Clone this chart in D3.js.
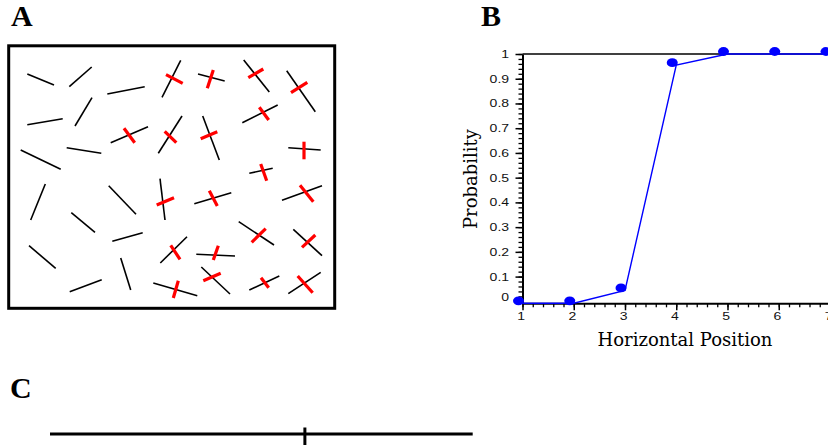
<!DOCTYPE html>
<html lang="en">
<head>
    <meta charset="UTF-8">
    <title>Orientation field and probability curve</title>
    <script src="https://cdn.jsdelivr.net/npm/d3@7"></script>
    <style>
        body { margin: 0; background: white; }
        svg { display: block; }
        .panel-label { font-family: "Liberation Serif", "Times New Roman", serif; font-weight: bold; font-size: 30px; }
        .axis-title { font-family: "DejaVu Serif", serif; font-size: 18px; }
        .tick text { font-family: "Liberation Sans", Arial, sans-serif; font-size: 11.5px; fill: #111; }
    </style>
</head>
<body>
<div id="chart"></div>
<script>
    /*----------------- data -----------------*/
    // panel A: black line segments [x1, y1, x2, y2] in field units
    const segments = [
        [27.3, 74, 54, 85], [69.3, 86.7, 91.7, 67], [107.3, 94, 144.7, 86.7],
        [162, 97.3, 180.7, 60.3], [198, 74, 224.7, 81], [243.7, 60, 269.3, 92],
        [286.7, 70.7, 315.3, 111.7], [27.3, 124.7, 62.7, 118.7], [75, 126, 92, 97.7],
        [110.7, 142.7, 148, 126.7], [158.3, 153.3, 182, 116], [202.7, 116, 219.3, 160],
        [242.3, 122.7, 277.7, 105], [288.3, 147.7, 320.7, 150], [20.7, 150, 60.7, 169.3],
        [66.7, 147.7, 101.3, 153.3], [249.3, 173.3, 272.7, 168.3], [30.7, 220, 45.3, 184],
        [108.7, 185.7, 136, 214.3], [160, 178.7, 165, 220], [194.3, 203.7, 231.3, 192.7],
        [282, 200.3, 322, 185.7], [71.3, 212.7, 95, 232.3], [112.3, 241.3, 142.7, 232.7],
        [238.7, 221.7, 274, 245], [293.3, 229.3, 322, 255.7], [29, 245.7, 55.7, 268.3],
        [160.3, 263, 187, 236.7], [196.3, 254.3, 235, 256], [120.7, 258, 130.7, 290],
        [69.7, 291.7, 101.7, 279.7], [153.3, 283, 197.3, 295.7], [201.3, 267, 230, 294],
        [249.3, 290, 279.3, 276], [288.3, 293.7, 320.7, 272.3]
    ];
    // panel A: red cross marks on the selected segments
    const crosses = [
        [166, 74.7, 182.7, 83.3], [213.3, 70, 207.3, 88.3], [248.3, 77.7, 263.3, 69],
        [291, 92.7, 307.3, 82.3], [124, 128.3, 134.7, 142.7], [164.7, 131.3, 176.3, 142.7],
        [200.7, 138.7, 217.3, 131.7], [259.3, 107.3, 268.7, 120], [304, 141.7, 304, 159.3],
        [260.7, 164, 266.7, 180.7], [156.7, 205, 174, 197.7], [209.3, 190.7, 217.3, 206],
        [300, 185.3, 313.3, 201.7], [251.7, 242.3, 265.7, 228.7], [302, 247.3, 315.3, 235],
        [170.7, 245.3, 180, 259.3], [218.3, 245.7, 213.3, 260], [178.3, 280.7, 173.3, 298],
        [203.3, 280.7, 220.7, 273.3], [261, 277.7, 268.7, 287.7], [297.7, 276, 312.7, 292.7]
    ];

    // panel B: probability by horizontal position
    const positions = [1, 2, 3, 4, 5, 6, 7];
    const probability = [-0.008, -0.008, 0.044, 0.955, 1, 1, 1];
    const yTicks = [0, 0.1, 0.2, 0.3, 0.4, 0.5, 0.6, 0.7, 0.8, 0.9, 1];
    const xTicks = [1, 2, 3, 4, 5, 6, 7];

    // panel C: a bar with one marker
    const cExtent = [0, 1];
    const cMarker = 0.603;

    /*----------------- svg -----------------*/
    const W = 828, H = 448;
    const svg = d3.select("#chart").append("svg")
        .attr("width", W)
        .attr("height", H);

    /*----------------- panel A -----------------*/
    const xA = d3.scaleLinear().domain([9, 334]).range([9, 334]);
    const yA = d3.scaleLinear().domain([46, 308]).range([46, 308]);

    svg.append("text").attr("class", "panel-label").attr("x", 11).attr("y", 26).text("A");

    svg.append("rect")
        .attr("x", 8.7).attr("y", 45.8)
        .attr("width", 326).attr("height", 262.5)
        .attr("fill", "none").attr("stroke", "black").attr("stroke-width", 3);

    svg.append("g").selectAll("line")
        .data(segments)
        .enter().append("line")
        .attr("x1", d => xA(d[0])).attr("y1", d => yA(d[1]))
        .attr("x2", d => xA(d[2])).attr("y2", d => yA(d[3]))
        .attr("stroke", "black").attr("stroke-width", 1.6);

    svg.append("g").selectAll("line")
        .data(crosses)
        .enter().append("line")
        .attr("x1", d => xA(d[0])).attr("y1", d => yA(d[1]))
        .attr("x2", d => xA(d[2])).attr("y2", d => yA(d[3]))
        .attr("stroke", "#ff0000").attr("stroke-width", 3.2);

    /*----------------- panel B -----------------*/
    svg.append("text").attr("class", "panel-label").attr("x", 481).attr("y", 26).text("B");

    const xB = d3.scaleLinear().domain([1, 7]).range([522.5, 830]);
    const yB = d3.scaleLinear().domain([-0.008, 1]).range([303.3, 54]);
    const x0 = xB(1), yBase = yB(-0.008);

    // minor ticks
    svg.append("g")
        .attr("transform", `translate(${x0},0)`)
        .call(d3.axisLeft(yB).tickValues(d3.range(0, 1.0001, 0.02)).tickSize(4).tickFormat(""))
        .call(g => g.select(".domain").remove())
        .call(g => g.selectAll("line").attr("stroke-width", 1.3));
    svg.append("g")
        .attr("transform", `translate(0,${yBase})`)
        .call(d3.axisBottom(xB).tickValues(d3.range(1, 7.0001, 0.2)).tickSize(4).tickFormat(""))
        .call(g => g.select(".domain").remove())
        .call(g => g.selectAll("line").attr("stroke-width", 1.3));

    // major ticks
    const yAxis = svg.append("g")
        .attr("transform", `translate(${x0},0)`)
        .call(d3.axisLeft(yB).tickValues(yTicks).tickSize(7).tickSizeOuter(0).tickFormat(d3.format("")));
    yAxis.select(".domain").attr("stroke-width", 2);
    yAxis.selectAll(".tick line").attr("stroke-width", 1.5);
    yAxis.selectAll(".tick text")
        .attr("x", -11)
        .attr("dy", "0.3em")
        .attr("transform", "scale(1.22,1)");
    yAxis.selectAll(".tick").filter(d => d === 0).select("text").attr("dy", "-0.05em");

    const xAxis = svg.append("g")
        .attr("transform", `translate(0,${yBase})`)
        .call(d3.axisBottom(xB).tickValues(xTicks).tickSize(7).tickSizeOuter(0).tickFormat(d3.format("d")));
    xAxis.select(".domain").attr("stroke-width", 2);
    xAxis.selectAll(".tick line").attr("stroke-width", 1.5);
    xAxis.selectAll(".tick text")
        .attr("x", -1.5)
        .attr("y", 9)
        .attr("transform", "scale(1.22,1)");

    // frame line at p = 1
    svg.append("line")
        .attr("x1", x0).attr("x2", W)
        .attr("y1", yB(1)).attr("y2", yB(1))
        .attr("stroke", "black").attr("stroke-width", 1.5);

    // curve
    const pts = positions.map((p, i) => [p, probability[i]]);
    svg.append("path")
        .datum(pts)
        .attr("fill", "none")
        .attr("stroke", "#0000ff")
        .attr("stroke-width", 1.4)
        .attr("d", d3.line().x(d => xB(d[0])).y(d => yB(d[1])));

    svg.append("g")
        .attr("transform", "translate(-4,-2.5)")
        .selectAll("ellipse")
        .data(pts)
        .enter().append("ellipse")
        .attr("cx", d => xB(d[0]))
        .attr("cy", d => yB(d[1]))
        .attr("rx", 5.5).attr("ry", 4.4)
        .attr("fill", "#0000ff");

    svg.append("text")
        .attr("class", "axis-title")
        .attr("text-anchor", "middle")
        .attr("x", 685).attr("y", 346)
        .text("Horizontal Position");

    svg.append("text")
        .attr("class", "axis-title")
        .attr("text-anchor", "middle")
        .attr("transform", "translate(477,179) rotate(-90)")
        .text("Probability");

    /*----------------- panel C -----------------*/
    svg.append("text").attr("class", "panel-label").attr("x", 10).attr("y", 398).text("C");

    const xC = d3.scaleLinear().domain(cExtent).range([50, 472.7]);
    svg.append("line")
        .attr("x1", xC(cExtent[0])).attr("x2", xC(cExtent[1]))
        .attr("y1", 434).attr("y2", 434)
        .attr("stroke", "black").attr("stroke-width", 3);
    svg.append("line")
        .attr("x1", xC(cMarker)).attr("x2", xC(cMarker))
        .attr("y1", 427.5).attr("y2", 445)
        .attr("stroke", "black").attr("stroke-width", 3);
</script>
</body>
</html>
